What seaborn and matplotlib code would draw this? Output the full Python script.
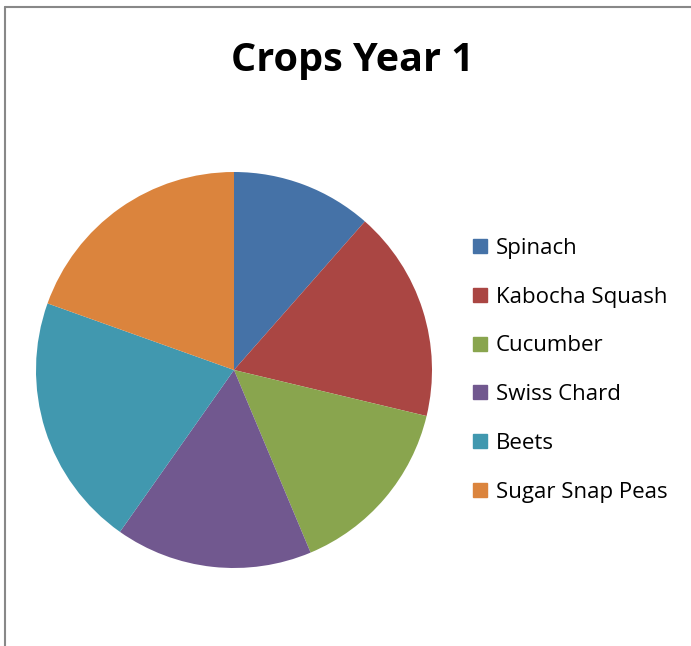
import matplotlib
matplotlib.use('Agg')
import matplotlib.pyplot as plt
import seaborn as sns
from matplotlib.lines import Line2D

# Chart data
crops = ['Spinach', 'Kabocha Squash', 'Cucumber', 'Swiss Chard', 'Beets', 'Sugar Snap Peas']
counts = [10, 15, 13, 14, 18, 17]
colours = ['#4572A7', '#AA4643', '#89A54E', '#71588F', '#4198AF', '#DB843D']

sns.set_theme(style='white')
plt.rcParams['font.family'] = ['Open Sans', 'DejaVu Sans']

W, H = 691, 646
fig = plt.figure(figsize=(W / 100, H / 100), dpi=100)
fig.patch.set_facecolor('white')

# pie axes: centre (234, 370), radius 198 px
cx, cy, r = 234, 370, 198
ax = fig.add_axes([(cx - r) / W, (H - cy - r) / H, 2 * r / W, 2 * r / H])
sns.set_palette(colours)
wedges, _ = ax.pie(counts, colors=colours, startangle=90, counterclock=False,
                   wedgeprops=dict(linewidth=0))
ax.set_xlim(-1, 1)
ax.set_ylim(-1, 1)
ax.set_aspect('equal')
ax.axis('off')

# title
fig.text(352 / W, 1 - 60 / H, 'Crops Year 1', ha='center', va='center',
         fontsize=28.5, fontweight='bold', color='black')

# legend
handles = [Line2D([], [], marker='s', linestyle='none', markersize=9.5,
                  markerfacecolor=c, markeredgecolor=c) for c in colours]
fig.legend(handles, crops, loc='upper left', bbox_to_anchor=(460 / W, 1 - 229 / H),
           frameon=False, fontsize=16, labelspacing=1.25, handletextpad=0.2,
           handlelength=1.0, borderaxespad=0, labelcolor='black')

# chart-area border (left and top edges)
fig.add_artist(Line2D([5.5 / W, 5.5 / W], [0, 1 - 7 / H], color='#888888', lw=1.5))
fig.add_artist(Line2D([5.5 / W, 1], [1 - 7 / H, 1 - 7 / H], color='#888888', lw=1.5))

fig.savefig('out.png', dpi=100, facecolor='white')
